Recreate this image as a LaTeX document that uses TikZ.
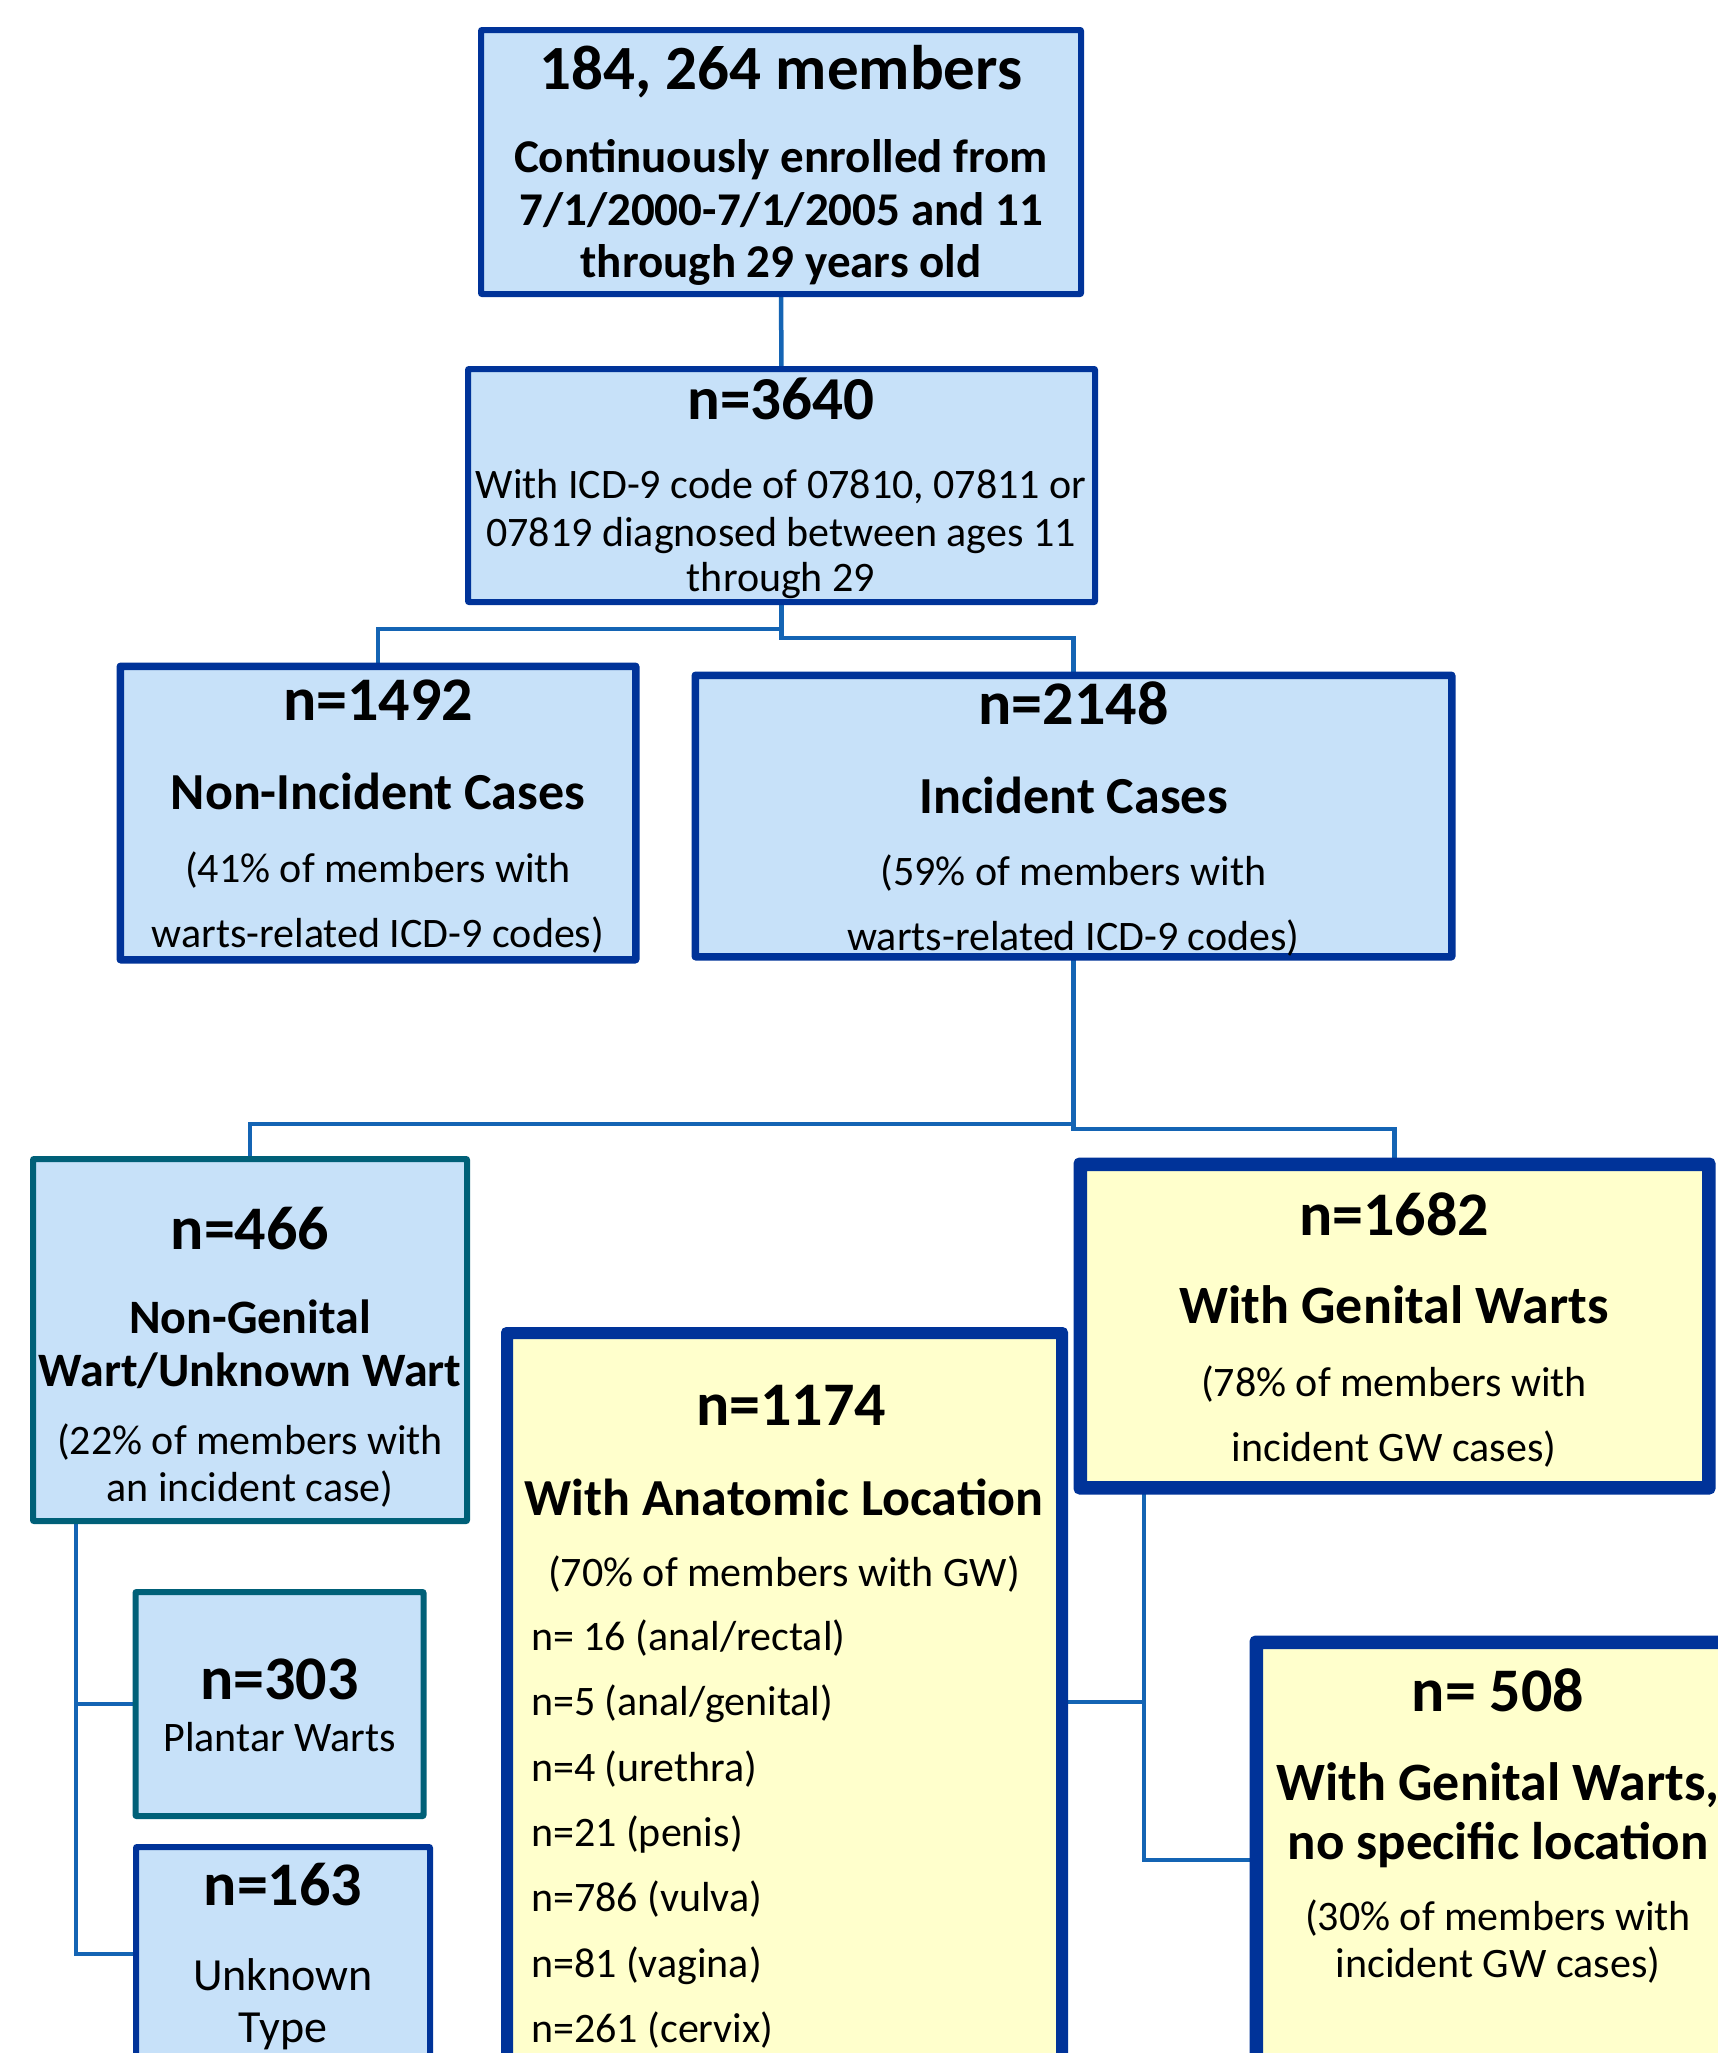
\documentclass[tikz,border=0pt]{standalone}
\usepackage{fontspec}
\setmainfont{Carlito}
\definecolor{fillblue}{RGB}{199,225,249}
\definecolor{fillyellow}{RGB}{255,255,204}
\definecolor{borderblue}{RGB}{0,51,153}
\definecolor{borderteal}{RGB}{0,96,120}
\definecolor{linkblue}{RGB}{20,100,180}
\newcommand{\fsz}[1]{\fontsize{#1}{#1}\selectfont}
\begin{document}
\begin{tikzpicture}[x=1pt,y=-1pt,
  bluebox/.style={draw=borderblue,fill=fillblue,rectangle,inner sep=0pt,rounded corners=2pt},
  tealbox/.style={draw=borderteal,fill=fillblue,rectangle,inner sep=0pt,rounded corners=2pt},
  yelbox/.style={draw=borderblue,fill=fillyellow,rectangle,inner sep=0pt,rounded corners=2pt},
  link/.style={draw=linkblue,line width=4.5pt},
  ctext/.style={inner sep=0pt,anchor=base},
  ltext/.style={inner sep=0pt,anchor=base west},
  numtxt/.style={ctext,font=\bfseries\fsz{62}},
  headtxt/.style={ctext,font=\bfseries\fsz{52}},
  bodytxt/.style={ctext,font=\fsz{42}},
  listtxt/.style={ltext,font=\fsz{42}}
]
\useasboundingbox (0,0) rectangle (1718,2053);
\clip (0,0) rectangle (1718,2053);
\fill[white] (0,0) rectangle (1718,2053);

% boxes
\node[bluebox,line width=4pt,minimum width=598pt,minimum height=262pt] (b1) at (781,162) {};
\node[bluebox,line width=4pt,minimum width=625pt,minimum height=231pt] (b2) at (781.5,485.5) {};
\node[bluebox,line width=5pt,minimum width=513pt,minimum height=291pt] (b3) at (378,813) {};
\node[bluebox,line width=5pt,minimum width=754pt,minimum height=279pt] (b4) at (1073.5,816) {};
\node[tealbox,line width=4pt,minimum width=432pt,minimum height=360pt] (b5) at (250,1340) {};
\node[yelbox,line width=9pt,minimum width=624pt,minimum height=319pt] (b6) at (1394.5,1326) {};
\node[tealbox,line width=4pt,minimum width=286pt,minimum height=222pt] (b7) at (279.5,1704) {};
\node[bluebox,line width=4pt,minimum width=292pt,minimum height=212pt] (b8) at (283,1954) {};
\node[yelbox,line width=8pt,minimum width=551pt,minimum height=734pt] (b9) at (784.5,1702) {};
\node[yelbox,line width=9pt,minimum width=479pt,minimum height=431pt] (b10) at (1498,1860) {};

% connectors
\coordinate (x76) at (76,0);
\coordinate (x1144) at (1144,0);
\coordinate (s5) at (b5.south -| x76);
\coordinate (s6) at (b6.south -| x1144);
\draw[link] (b1.south) -- (b2.north);
\draw[link] (b2.south) -- ++(0,26) -| (b3.north);
\draw[link] (b2.south) -- ++(0,35) -| (b4.north);
\draw[link] (b4.south) -- ++(0,166) -| (b5.north);
\draw[link] (b4.south) -- ++(0,171) -| (b6.north);
\draw[link] (s5) |- (b7.west);
\draw[link] (s5) |- (b8.west);
\draw[link] (s6) |- (b10.west);
\draw[link] (b9.east) -- (b9.east -| s6);

% box outlines redrawn over connector ends
\foreach \b/\c/\w in {b1/borderblue/4,b2/borderblue/4,b3/borderblue/5,b4/borderblue/5,b5/borderteal/4,b6/borderblue/9,b7/borderteal/4,b8/borderblue/4,b9/borderblue/8,b10/borderblue/9}
  \draw[draw=\c,line width=\w pt,rounded corners=2pt] (\b.north west) rectangle (\b.south east);

% box 1
\node[ctext,font=\bfseries\fsz{63}] (t1a) at (781,89) {184, 264 members};
\node[ctext,font=\bfseries\fsz{47}] (t1b) at (781,172) {Continuously enrolled from};
\node[ctext,font=\bfseries\fsz{47}] (t1c) at (781,225) {7/1/2000-7/1/2005 and 11};
\node[ctext,font=\bfseries\fsz{47}] (t1d) at (781,277) {through 29 years old};

% box 2
\node[numtxt,font=\bfseries\fsz{61}] (t2a) at (781,419) {n=3640};
\node[bodytxt] (t2b) at (781,498) {With ICD-9 code of 07810, 07811 or};
\node[bodytxt] (t2c) at (781,546) {07819 diagnosed between ages 11};
\node[bodytxt] (t2d) at (781,591) {through 29};

% box 3
\node[numtxt] (t3a) at (378,720) {n=1492};
\node[headtxt] (t3b) at (378,809) {Non-Incident Cases};
\node[bodytxt] (t3c) at (378,882) {(41\% of members with};
\node[bodytxt] (t3d) at (378,947) {warts-related ICD-9 codes)};

% box 4
\node[numtxt] (t4a) at (1073.5,724) {n=2148};
\node[headtxt] (t4b) at (1073.5,813) {Incident Cases};
\node[bodytxt] (t4c) at (1073.5,885) {(59\% of members with};
\node[bodytxt] (t4d) at (1073.5,950) {warts-related ICD-9 codes)};

% box 5
\node[numtxt] (t5a) at (250,1249) {n=466};
\node[ctext,font=\bfseries\fsz{48}] (t5b) at (250,1333) {Non-Genital};
\node[ctext,font=\bfseries\fsz{48}] (t5c) at (250,1386) {Wart/Unknown Wart};
\node[bodytxt] (t5d) at (250,1454) {(22\% of members with};
\node[bodytxt] (t5e) at (250,1501) {an incident case)};

% box 7
\node[numtxt] (t7a) at (279.5,1699) {n=303};
\node[bodytxt] (t7b) at (279.5,1751) {Plantar Warts};

% box 8
\node[numtxt] (t8a) at (283,1905) {n=163};
\node[ctext,font=\fsz{46}] (t8b) at (283,1990) {Unknown};
\node[ctext,font=\fsz{46}] (t8c) at (283,2042) {Type};

% box 9
\node[numtxt] (t9a) at (791,1425) {n=1174};
\node[headtxt] (t9b) at (784,1515) {With Anatomic Location};
\node[bodytxt] (t9c) at (784,1586) {(70\% of members with GW)};
\node[listtxt] (t9d) at (531,1650) {n= 16 (anal/rectal)};
\node[listtxt] (t9e) at (531,1715) {n=5 (anal/genital)};
\node[listtxt] (t9f) at (531,1781) {n=4 (urethra)};
\node[listtxt] (t9g) at (531,1846) {n=21 (penis)};
\node[listtxt] (t9h) at (531,1911) {n=786 (vulva)};
\node[listtxt] (t9i) at (531,1977) {n=81 (vagina)};
\node[listtxt] (t9j) at (531,2042) {n=261 (cervix)};

% box 6
\node[numtxt] (t6a) at (1394,1235) {n=1682};
\node[ctext,font=\bfseries\fsz{54}] (t6b) at (1394,1323) {With Genital Warts};
\node[bodytxt] (t6c) at (1394,1396) {(78\% of members with};
\node[bodytxt] (t6d) at (1394,1461) {incident GW cases)};

% box 10
\node[numtxt] (t10a) at (1498,1711) {n= 508};
\node[ctext,font=\bfseries\fsz{54}] (t10b) at (1498,1800) {With Genital Warts,};
\node[ctext,font=\bfseries\fsz{53}] (t10c) at (1498,1859) {no specific location};
\node[bodytxt] (t10d) at (1498,1930) {(30\% of members with};
\node[bodytxt] (t10e) at (1498,1977) {incident GW cases)};
\end{tikzpicture}
\end{document}
